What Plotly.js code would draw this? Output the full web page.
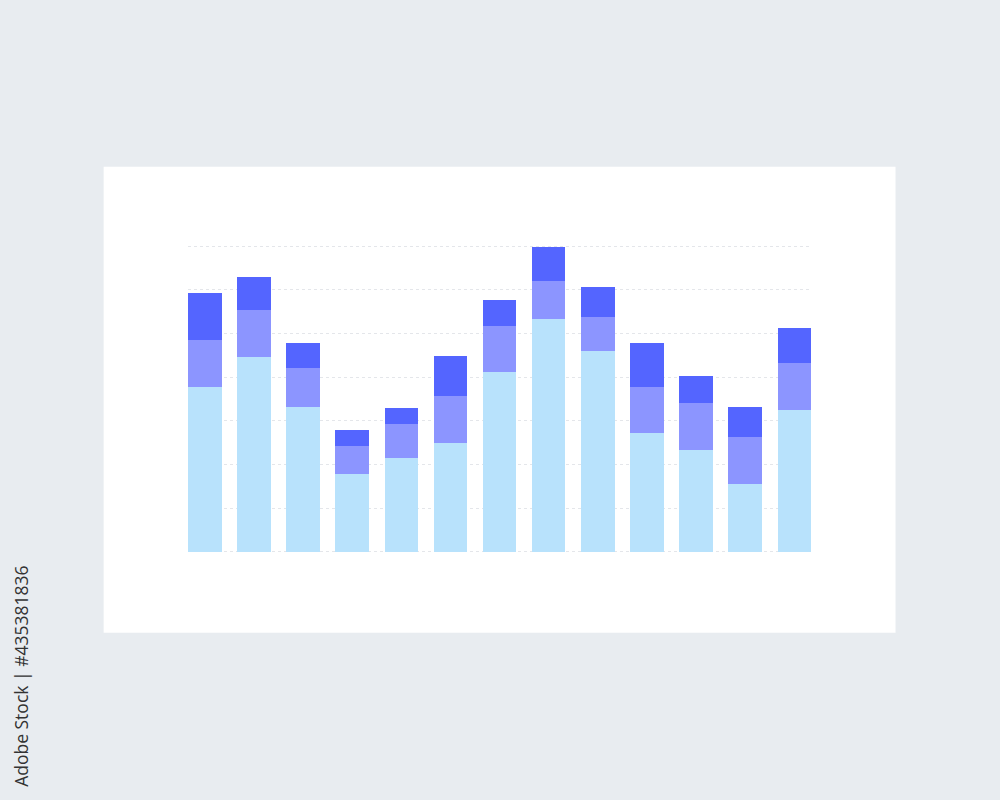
<!DOCTYPE html>
<html>
<head>
<meta charset="utf-8">
<script src="https://cdn.plot.ly/plotly-3.0.1.min.js"></script>
<style>html,body{margin:0;padding:0;background:#e8ecf0;}#chart{width:1000px;height:800px;}</style>
</head>
<body>
<div id="chart"></div>
<script>
const categories = ["1","2","3","4","5","6","7","8","9","10","11","12","13"];
const seriesBase = [3.78, 4.47, 3.31, 1.77, 2.15, 2.50, 4.11, 5.34, 4.61, 2.71, 2.34, 1.56, 3.25];
const seriesMid  = [1.07, 1.07, 0.91, 0.65, 0.77, 1.07, 1.07, 0.87, 0.77, 1.07, 1.07, 1.08, 1.07];
const seriesTop  = [1.07, 0.75, 0.56, 0.37, 0.38, 0.91, 0.58, 0.77, 0.69, 1.00, 0.62, 0.67, 0.80];
const seriesNames = ["Series A", "Series B", "Series C"];
const seriesColors = ["#b8e2fc", "#8c95ff", "#5465ff"];
const watermarkText = "Adobe Stock | #435381836";

const allSeries = [seriesBase, seriesMid, seriesTop];
const traces = allSeries.map((vals, i) => ({
  type: "bar",
  x: categories,
  y: vals,
  name: seriesNames[i],
  marker: {color: seriesColors[i], line: {width: 0}},
  hoverinfo: "x+y"
}));

const layout = {
  width: 1000,
  height: 800,
  barmode: "stack",
  bargap: 0.318,
  showlegend: false,
  paper_bgcolor: "#e8ecf0",
  plot_bgcolor: "rgba(0,0,0,0)",
  margin: {l: 188.3, r: 189, t: 245.2, b: 246.7, pad: 0},
  xaxis: {
    type: "category",
    range: [-0.341, 12.341],
    showticklabels: false,
    showgrid: false,
    zeroline: false,
    showline: false,
    ticks: ""
  },
  yaxis: {
    range: [-0.03, 7.03],
    dtick: 1,
    tick0: 0,
    showticklabels: false,
    showgrid: true,
    gridcolor: "#e4e6ea",
    gridwidth: 1,
    griddash: "dot",
    zeroline: false,
    showline: false,
    ticks: "",
    layer: "below traces"
  },
  shapes: [{
    type: "rect",
    xref: "paper", yref: "paper",
    x0: -0.1354, x1: 1.1357,
    y0: -0.2587, y1: 1.2540,
    fillcolor: "#ffffff",
    line: {width: 0},
    layer: "below"
  }],
  annotations: [{
    text: watermarkText,
    xref: "paper", yref: "paper",
    x: -0.267, y: -0.400,
    xanchor: "center", yanchor: "middle",
    showarrow: false,
    textangle: -90,
    font: {family: "Open Sans, sans-serif", size: 17.5, color: "#333333"}
  }]
};

Plotly.newPlot("chart", traces, layout, {displayModeBar: false, staticPlot: true});
</script>
</body>
</html>
